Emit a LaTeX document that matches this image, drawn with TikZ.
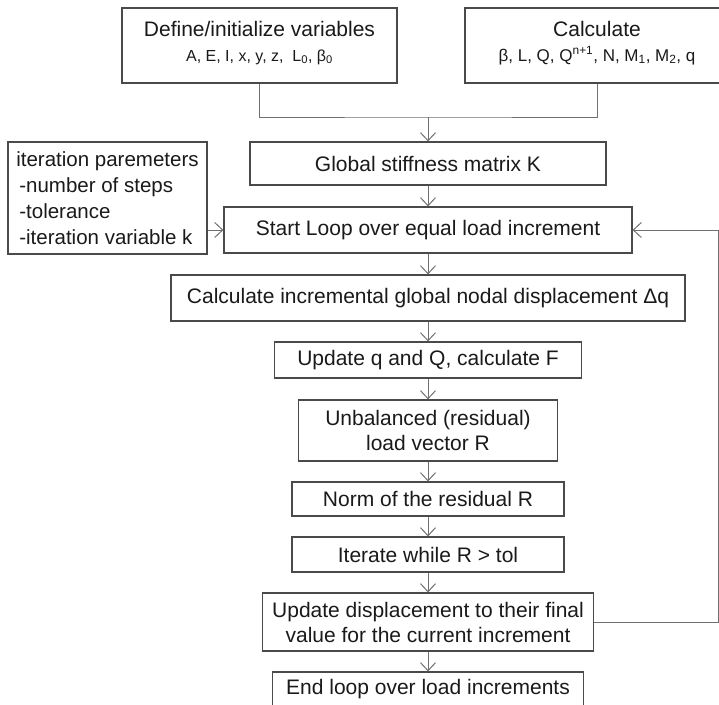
\documentclass[tikz,border=0pt]{standalone}
\usepackage{fontspec}
\setmainfont{Liberation Sans}
\usetikzlibrary{arrows.meta}
\definecolor{edge}{HTML}{4A4A4A}
\definecolor{wirec}{HTML}{707070}
\definecolor{ink}{HTML}{1A1A1A}
\begin{document}
\begin{tikzpicture}[x=1pt,y=-1pt,
  box/.style={draw=edge, line width=1.2pt, fill=white, inner sep=0pt,
    align=center, text=ink, font=\fontsize{21}{25}\selectfont},
  txt/.style={text=ink, inner sep=0pt, font=\fontsize{21}{25}\selectfont},
  small/.style={text=ink, inner sep=0pt, font=\fontsize{16}{18}\selectfont},
  wire/.style={draw=wirec, line width=1pt},
  arr/.style={wire, -{Straight Barb[length=8pt,width=15pt,line width=1pt]}}
]
\clip (0,0) rectangle (719,704);
\fill[white] (0,0) rectangle (719,704);

% input boxes
\node[box, minimum width=275pt, minimum height=75pt] (init) at (259.5,45.5) {};
\node[txt, anchor=base] (initT) at (259.5,36) {Define/initialize variables};
\node[small, anchor=base] (initS) at (259.5,61)
  {A, E, I, x, y, z,\ \ L\textsubscript{0}, β\textsubscript{0}};

\node[box, minimum width=264pt, minimum height=75pt] (calcv) at (597,45.5) {};
\node[txt, anchor=base] (calcT) at (597,36) {Calculate};
\node[small, anchor=base, font=\fontsize{17}{19}\selectfont] (calcS) at (597,61)
  {β, L, Q, Q\textsuperscript{n+1}, N, M\textsubscript{1}, M\textsubscript{2}, q};

% main chain
\node[box, minimum width=356pt, minimum height=43pt] (glob) at (428,163.5) {Global stiffness matrix K};
\node[box, minimum width=199pt, minimum height=112pt, align=left, inner xsep=4pt,
  font=\fontsize{20.5}{26}\selectfont] (iter) at (107.5,198)
  {iteration paremeters\\\hspace{3pt}-number of steps\\\hspace{3pt}-tolerance\\\hspace{3pt}-iteration variable k};
\node[box, minimum width=408pt, minimum height=46pt] (start) at (428,230) {Start Loop over equal load increment};
\node[box, minimum width=514pt, minimum height=46pt] (incr) at (428,298) {Calculate incremental global nodal displacement Δq};
\node[box, minimum width=307pt, minimum height=36pt] (updq) at (428,360) {Update q and Q, calculate F};
\node[box, minimum width=259pt, minimum height=61pt] (resid) at (428,430.5) {Unbalanced (residual)\\load vector R};
\node[box, minimum width=272pt, minimum height=34pt] (norm) at (428,499) {Norm of the residual R};
\node[box, minimum width=272pt, minimum height=35pt] (iterate) at (428,554.5) {Iterate while R \textgreater{} tol};
\node[box, minimum width=331pt, minimum height=58pt] (upd) at (428,622) {Update displacement to their final\\value for the current increment};
\node[box, minimum width=311pt, minimum height=40pt] (endl) at (428,692) {};
\node[txt, anchor=base] (endT) at (428,694) {End loop over load increments};

% connectors
\coordinate (j) at (428,117);
\draw[wire] (init.south) |- (j) -| (calcv.south);
\draw[arr] (j) -- (glob.north);
\draw[arr] (glob.south) -- (start.north);
\draw[arr] (iter.east |- start.west) -- (start.west);
\draw[arr] (start.south) -- (incr.north);
\draw[arr] (incr.south) -- (updq.north);
\draw[arr] (updq.south) -- (resid.north);
\draw[arr] (resid.south) -- (norm.north);
\draw[arr] (norm.south) -- (iterate.north);
\draw[arr] (iterate.south) -- (upd.north);
\draw[arr] (upd.south) -- (endl.north);
\coordinate (fb) at (718,230);
\draw[arr] (upd.east) -| (fb) -- (start.east);
\end{tikzpicture}
\end{document}
